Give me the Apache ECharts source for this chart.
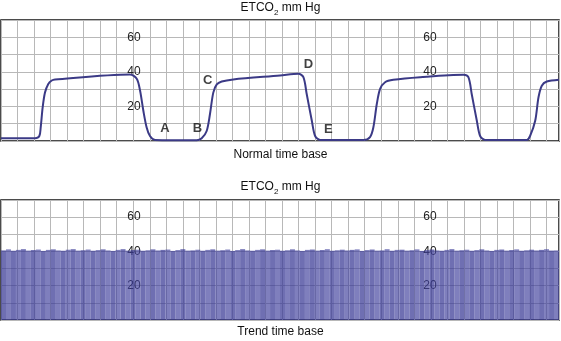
<!DOCTYPE html>
<html>
<head>
<meta charset="utf-8">
<script src="https://cdn.jsdelivr.net/npm/echarts@6/dist/echarts.min.js"></script>
<style>
html,body{margin:0;padding:0;background:#fff;}
#chart{width:561px;height:341px;}
</style>
</head>
<body>
<div id="chart"></div>
<script>
// Normal time base waveform: [time (grid units), ETCO2 mm Hg]
var waveX = [0,2.06,2.32,2.40,2.52,2.66,2.86,3.07,3.27,7.80,8.21,8.41,8.61,8.81,9.01,9.32,11.84,12.14,12.44,12.64,12.84,13.05,13.35,14.05,16.88,17.99,18.29,18.49,18.80,19.00,19.30,21.92,22.32,22.52,22.73,22.93,23.23,23.73,25.35,27.97,28.27,28.47,28.78,28.98,29.28,31.80,32.00,32.31,32.51,32.71,33.01,33.75];
var waveY = [1.6,1.6,2.9,7.8,19.4,28,33,35,35.6,38.5,36,29.2,17.5,7.8,2.9,0.6,0.4,1.6,5.8,15.6,28,32.7,34.4,35.6,37.9,38.9,36.9,27.2,11.7,2.9,0.6,0.6,2.3,7.8,21.4,30.1,34,35.4,36.9,38.3,36.9,27.2,11.7,2.9,0.6,0.6,2.9,11.7,25.3,32,34.4,35.5];
// Phase annotations
var annNames = ['A','B','C','D','E'];
var annX = [9.92,11.88,12.5,18.59,19.8];
var annY = [7.35,7.35,35.3,44.4,6.8];
// Trend time base values (compressed breaths)
var trendVals = [40.6,41.2,40.4,40.9,41.3,40.5,40.8,41.1,40.3,40.9,41.2,40.6,40.4,41.0,41.3,40.5,40.7,41.1,40.4,40.8,41.2,40.6,40.3,40.9,41.3,40.5,40.8,41.0,40.4,40.7,41.2,40.6,40.9,41.1,40.3,40.8,41.3,40.5,40.6,41.0,40.4,40.9,41.2,40.5,40.7,41.1,40.3,40.8,41.3,40.6,40.4,40.9,41.2,40.5,40.8,41.0,40.4,40.7,41.2,40.6,40.3,40.9,41.1,40.5,40.8,41.3,40.4,40.7,41.0,40.6,40.9,41.2,40.3,40.8,41.1,40.5,40.6,41.3,40.4,40.9,41.0,40.5,40.7,41.2,40.3,40.8,41.1,40.6,40.4,40.9,41.3,40.5,40.7,41.0,40.4,40.8,41.2,40.6,40.3,40.9,41.1,40.5,40.8,41.2,40.4,40.7,41.0,40.6,40.9,41.3,40.5,40.6];
var yTickLabels = ['20','40','60'];
var titleNormal = 'Normal time base';
var titleTrend = 'Trend time base';

var FONT = 'Liberation Sans, Arial, sans-serif';
var waveData = waveX.map(function(x,i){return [x, waveY[i]];});
var annData = annNames.map(function(n,i){return {name:n, value:[annX[i], annY[i]]};});
var trendCats = trendVals.map(function(v,i){return String(i);});

function richTitle(top){
  return {
    text: '{a|ETCO}{s|2}{a| mm Hg}',
    left: 'center', top: top, padding: 0,
    textStyle: {
      fontWeight: 'normal', fontFamily: FONT, fontSize: 12, color: '#111',
      rich: {
        a: {fontFamily: FONT, fontSize: 12, fontWeight: 'normal', color: '#111', lineHeight: 15},
        s: {fontFamily: FONT, fontSize: 8, fontWeight: 'normal', color: '#111', lineHeight: 15, verticalAlign: 'bottom', padding:[0,0,-2,0]}
      }
    }
  };
}
function plainTitle(t, top){
  return {text: t, left: 'center', top: top, padding: 0,
    textStyle: {fontFamily: FONT, fontSize: 12, fontWeight: 'normal', color: '#111'}};
}
function labelFmt(v){ return yTickLabels.indexOf(String(v)) >= 0 ? String(v) : ''; }
function labelAxis(gi, off, showSplit){
  return {
    type: 'value', gridIndex: gi, min: 0, max: 70, interval: 10, position: 'left', offset: off,
    axisLine: {show: false}, axisTick: {show: false},
    splitLine: {show: showSplit, lineStyle: {color: '#b8b8b8', width: 1}},
    axisLabel: {show: true, formatter: labelFmt, align: 'center', margin: 0,
      fontFamily: FONT, fontSize: 12, color: '#222'}
  };
}
function gridXAxis(gi){
  return {type: 'value', gridIndex: gi, min: 0, max: 33.75, interval: 1,
    axisLine: {show: false}, axisTick: {show: false}, axisLabel: {show: false},
    splitLine: {show: true, lineStyle: {color: '#b8b8b8', width: 1}}};
}

var chart = echarts.init(document.getElementById('chart'), null, {renderer: 'canvas'});
chart.setOption({
  animation: false,
  backgroundColor: '#fff',
  title: [richTitle(0), plainTitle(titleNormal, 149), richTitle(179), plainTitle(titleTrend, 326)],
  grid: [
    {left: 1, top: 20, width: 558, height: 121, show: true, borderColor: '#111', borderWidth: 1.5, backgroundColor: 'transparent'},
    {left: 1, top: 200, width: 558, height: 120, show: true, borderColor: '#111', borderWidth: 1.5, backgroundColor: 'transparent'}
  ],
  xAxis: [
    gridXAxis(0),
    gridXAxis(1),
    {type: 'category', gridIndex: 1, data: trendCats, show: false, boundaryGap: true}
  ],
  yAxis: [
    labelAxis(0, -133, true),
    labelAxis(0, -429, false),
    labelAxis(1, -133, true),
    labelAxis(1, -429, false)
  ],
  series: [
    {type: 'line', xAxisIndex: 0, yAxisIndex: 0, data: waveData, showSymbol: false, smooth: 0.3,
      lineStyle: {color: '#3b3a86', width: 2}, z: 3},
    {type: 'scatter', xAxisIndex: 0, yAxisIndex: 0, data: annData, symbolSize: 0,
      label: {show: true, position: 'inside', formatter: '{b}', fontFamily: FONT, fontSize: 13, fontWeight: 'bold', color: '#111'}, z: 4},
    {type: 'bar', xAxisIndex: 2, yAxisIndex: 2, data: trendVals, barCategoryGap: '0%', barGap: '0%',
      itemStyle: {color: function(p){ return p.dataIndex % 2 === 1 ? 'rgba(66,66,158,0.68)' : 'rgba(58,58,150,0.73)'; }}, z: 1}
  ]
});
</script>
</body>
</html>
